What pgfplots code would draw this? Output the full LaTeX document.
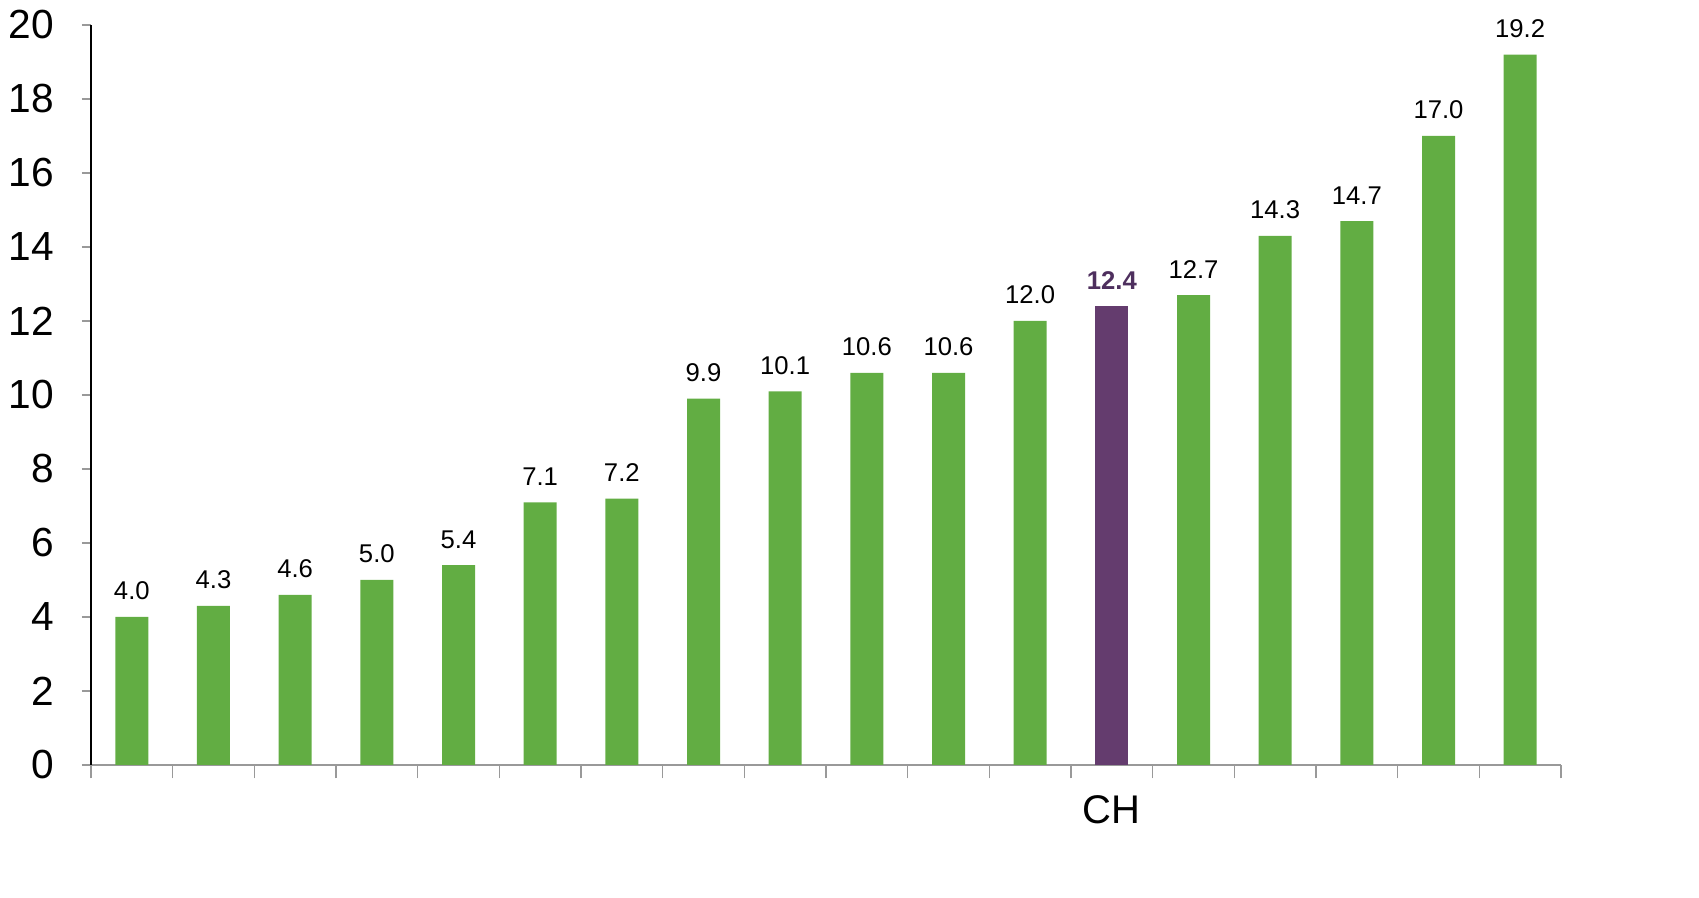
\documentclass[border=0pt]{standalone}
\usepackage{pgfplots}
\pgfplotsset{compat=1.18}
\usepackage{fontspec}
\setmainfont{Liberation Sans}
\definecolor{barGreen}{HTML}{62AD43}
\definecolor{barPurple}{HTML}{643C6E}
\definecolor{lblPurple}{HTML}{4E2F5E}
\begin{document}
\begin{tikzpicture}
\begin{axis}[
  name=ax,
  scale only axis,
  width=441pt, height=222pt,
  xmin=-0.5, xmax=17.5,
  ymin=0, ymax=20,
  ytick={0,2,...,20},
  xtick={0,...,17},
  xticklabels={,,,,,,,,,,,,CH,,,,,},
  minor xtick={-0.5,0.5,...,17.5},
  major x tick style={draw=none},
  minor x tick style={draw=gray!80, line width=0.4pt},
  minor tick length=4pt,
  y tick style={draw=gray!80, line width=0.5pt},
  major tick length=2.7pt,
  axis x line*=bottom,
  axis y line*=left,
  x axis line style={draw=gray!80, line width=0.8pt, -},
  y axis line style={draw=black, line width=0.4pt, -},
  tick align=outside,
  xtick pos=bottom, ytick pos=left,
  /pgf/number format/assume math mode=true,
  yticklabel style={font=\fontsize{12.2}{14}\selectfont, xshift=-4.8pt},
  xticklabel style={font=\fontsize{12}{14}\selectfont, yshift=-3pt},
  ybar, bar width=9.9pt,
  clip=false,
]
\addplot[fill=barGreen, draw=none, bar shift=0pt,
  nodes near coords, nodes near coords align={vertical},
  every node near coord/.append style={font=\fontsize{7.7}{9}\selectfont, text=black, yshift=1.5pt},
  point meta=explicit symbolic]
  coordinates {
  (0,4.0) [4.0] (1,4.3) [4.3] (2,4.6) [4.6] (3,5.0) [5.0] (4,5.4) [5.4]
  (5,7.1) [7.1] (6,7.2) [7.2] (7,9.9) [9.9] (8,10.1) [10.1] (9,10.6) [10.6]
  (10,10.6) [10.6] (11,12.0) [12.0]
  (13,12.7) [12.7] (14,14.3) [14.3] (15,14.7) [14.7] (16,17.0) [17.0] (17,19.2) [19.2]
  };
\addplot[fill=barPurple, draw=none, bar shift=0pt,
  nodes near coords, nodes near coords align={vertical},
  every node near coord/.append style={font=\fontsize{7.7}{9}\selectfont\bfseries, text=lblPurple, yshift=1.5pt},
  point meta=explicit symbolic]
  coordinates {(12,12.4) [12.4]};
\end{axis}
\pgfresetboundingbox
\path[use as bounding box] ([xshift=-27.3pt, yshift=-39.9pt]ax.south west) rectangle ([xshift=41.4pt, yshift=7.5pt]ax.north east);
\end{tikzpicture}
\end{document}
